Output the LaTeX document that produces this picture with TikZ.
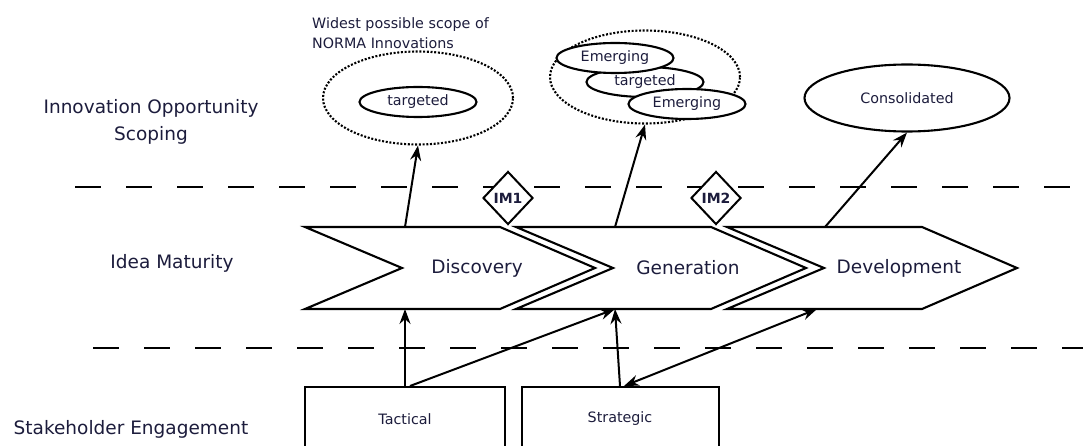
\documentclass[tikz,border=0pt]{standalone}
\usepackage{fontspec}
\setmainfont{DejaVu Sans}
\usetikzlibrary{shapes.geometric,arrows.meta}
\definecolor{ink}{RGB}{28,28,60}

\tikzset{
  lane/.style={line width=2.2pt, dash pattern=on 26pt off 25pt},
  lanetext/.style={text=ink, font=\fontsize{18.5}{27}\selectfont, align=center},
  body/.style={minimum width=290pt, minimum height=82pt, inner sep=0pt, outer sep=0pt, text=ink, font=\fontsize{18.5}{20}\selectfont},
  chev/.style={line width=2.1pt},
  gate/.style={diamond, draw, fill=white, line width=2pt, minimum width=50pt, minimum height=53pt, inner sep=0pt, text=ink, font=\bfseries\fontsize{14}{16}\selectfont},
  scope/.style={ellipse, draw, line width=2.1pt, dash pattern=on 2pt off 1.7pt, minimum width=190pt, minimum height=93pt},
  idea/.style={ellipse, draw, fill=white, line width=2.1pt, inner sep=0pt, minimum width=117pt, minimum height=30pt, text=ink, font=\fontsize{14.3}{16}\selectfont},
  party/.style={draw, line width=2pt, minimum height=64pt, inner sep=0pt, text=ink, font=\fontsize{14.3}{16}\selectfont},
  link/.style={-{Stealth[length=15pt,width=11pt,inset=5pt]}, line width=2pt},
  twoway/.style={{Stealth[length=15pt,width=11pt,inset=5pt]}-{Stealth[length=15pt,width=11pt,inset=5pt]}, line width=2pt},
}

\begin{document}
\begin{tikzpicture}[x=1pt, y=-1pt]
\useasboundingbox (0,0) rectangle (1083,446);
\clip (0,0) rectangle (1083,446);

\draw[lane] (75,187) -- (1083,187);
\draw[lane] (93,348) -- (1083,348);
\node[lanetext] (ios) at (151,122) {Innovation Opportunity\\Scoping};
\node[lanetext] (idm) at (172,263) {Idea Maturity};
\node[lanetext] (stk) at (131,429) {Stakeholder Engagement};

% maturity chevrons
\node[body] (disc) at (450,268) {\hspace*{54pt}Discovery};
\node[body] (gen) at (661,268) {\hspace*{54pt}Generation};
\node[body] (dev) at (872,268) {\hspace*{54pt}Development};
\foreach \n in {disc,gen,dev}{
  \draw[chev] (\n.north west) -- ([xshift=-95pt]\n.north east) -- (\n.east)
    -- ([xshift=-95pt]\n.south east) -- (\n.south west) -- ([xshift=97pt]\n.west) -- cycle;
}
\node[gate] (im1) at (508,198) {\makebox[0pt]{IM1}};
\node[gate] (im2) at (716,198) {\makebox[0pt]{IM2}};

% scoping
\node[anchor=west, align=left, inner sep=0pt, text=ink, font=\fontsize{14.3}{20}\selectfont] (wide) at (312,33) {Widest possible scope of\\NORMA Innovations};
\node[scope] (sc1) at (418,98) {};
\node[idea] (t1) at (418,102) {targeted};
\node[scope] (sc2) at (645,77) {};
\node[idea] (t2) at (645,82) {targeted};
\node[idea] (e1) at (615,58) {Emerging};
\node[idea] (e2) at (687,104) {Emerging};
\node[idea, minimum width=205pt, minimum height=67pt] (cons) at (907,98) {Consolidated};

% stakeholders
\node[party, minimum width=200pt] (tact) at (405,419) {Tactical};
\node[party, minimum width=197pt] (strat) at (620,419) {Strategic};

\draw[link] (tact |- disc.north) -- (sc1.south);
\draw[link] ([xshift=-46pt]gen.north) -- (sc2.south);
\draw[link] ([xshift=-47pt]dev.north) -- (cons.south);
\draw[link] (tact.north) -- (tact |- disc.south);
\draw[link] ([xshift=5pt]tact.north) -- ([xshift=-46pt]gen.south);
\draw[link] (strat.north) -- ([xshift=-46pt]gen.south);
\draw[twoway] ([xshift=4pt]strat.north) -- ([xshift=-55pt]dev.south);
\end{tikzpicture}
\end{document}
